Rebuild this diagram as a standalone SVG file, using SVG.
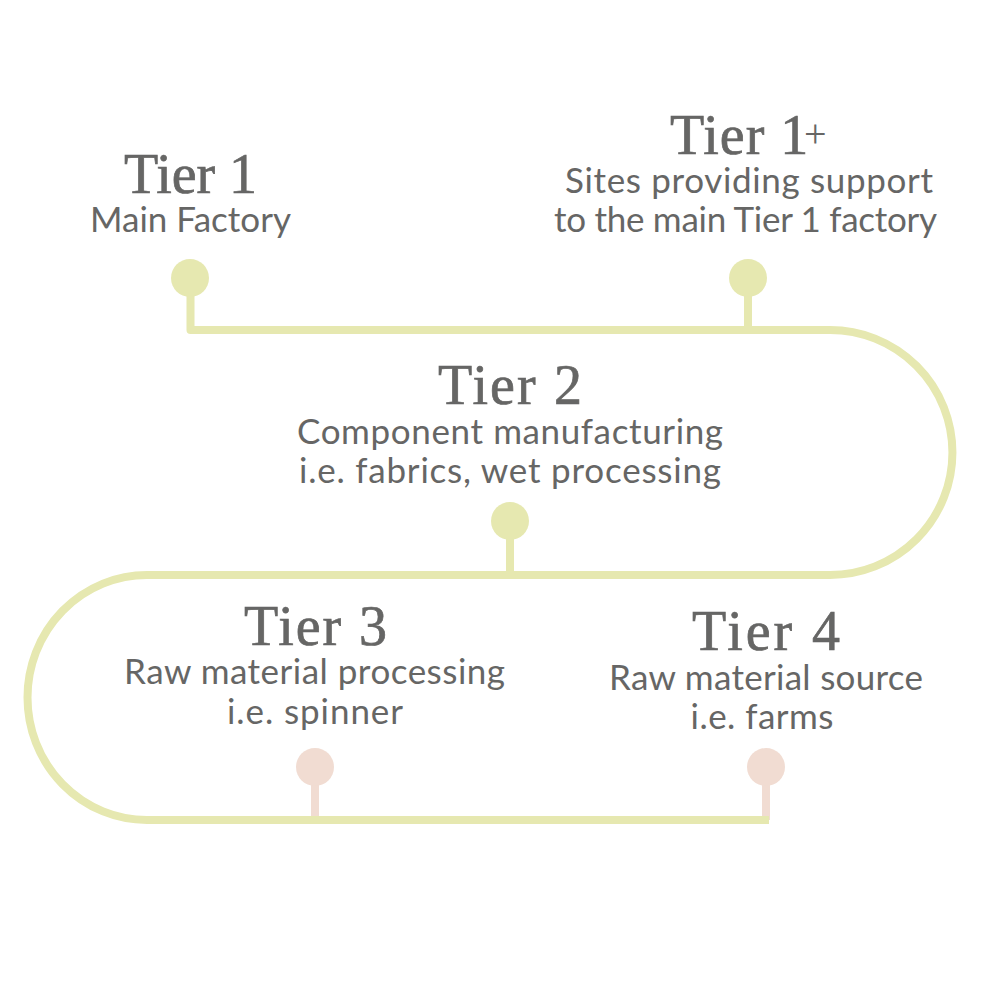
<svg xmlns="http://www.w3.org/2000/svg" width="1000" height="1000" viewBox="0 0 1000 1000">
<style>
.h{font-family:"Liberation Serif",serif;font-size:56px;fill:#666665;stroke:#666665;stroke-width:.7px;text-anchor:middle}
.b{font-family:"Lato","Open Sans",sans-serif;font-size:35px;fill:#666665;text-anchor:middle}
.g{fill:#e6e8b0}.p{fill:#f1dcd2}
.l{fill:none;stroke:#e6e8b0;stroke-width:8;stroke-linejoin:round}
.sg{stroke:#e6e8b0;stroke-width:8}.sp{stroke:#f1dcd2;stroke-width:8}
</style>
<rect width="1000" height="1000" fill="#fff"/>
<g id="connectors">
<line class="sg" x1="748" y1="290" x2="748" y2="330"/>
<line class="sg" x1="510" y1="535" x2="510" y2="575"/>
<line class="sp" x1="315" y1="780" x2="315" y2="820"/>
<line class="sp" x1="766" y1="780" x2="766" y2="820"/>
<path class="l" d="M190.500 290V330H830A122.500 122.500 0 0 1 830 575H147A119.500 122.500 0 0 0 147 820H769"/>
</g>
<g id="tier1"><circle class="g" cx="190" cy="278" r="19"/><text class="h" x="190.500" y="193" textLength="133" lengthAdjust="spacing">Tier 1</text><text class="b" x="190.500" y="232" textLength="201" lengthAdjust="spacing">Main Factory</text></g>
<g id="tier1plus"><circle class="g" cx="748" cy="278" r="19"/><text class="h" x="670" y="154" style="text-anchor:start;letter-spacing:1px">Tier 1<tspan x="804" y="147" style="font-size:40px;stroke-width:0">+</tspan></text><text class="b" x="749" y="193" textLength="368" lengthAdjust="spacing">Sites providing support</text><text class="b" x="745.500" y="232" textLength="383" lengthAdjust="spacing">to the main Tier 1 factory</text></g>
<g id="tier2"><circle class="g" cx="510" cy="521" r="19"/><text class="h" x="510" y="404" textLength="144" lengthAdjust="spacing">Tier 2</text><text class="b" x="510" y="444" textLength="426" lengthAdjust="spacing">Component manufacturing</text><text class="b" x="510" y="483" textLength="422" lengthAdjust="spacing">i.e. fabrics, wet processing</text></g>
<g id="tier3"><circle class="p" cx="315" cy="767" r="19"/><text class="h" x="315.500" y="645" textLength="143" lengthAdjust="spacing">Tier 3</text><text class="b" x="314.500" y="684" textLength="381" lengthAdjust="spacing">Raw material processing</text><text class="b" x="315" y="724" textLength="176" lengthAdjust="spacing">i.e. spinner</text></g>
<g id="tier4"><circle class="p" cx="766" cy="767" r="19"/><text class="h" x="766" y="650" textLength="148" lengthAdjust="spacing">Tier 4</text><text class="b" x="766" y="690" textLength="314" lengthAdjust="spacing">Raw material source</text><text class="b" x="762" y="729" textLength="143" lengthAdjust="spacing">i.e. farms</text></g>
</svg>
